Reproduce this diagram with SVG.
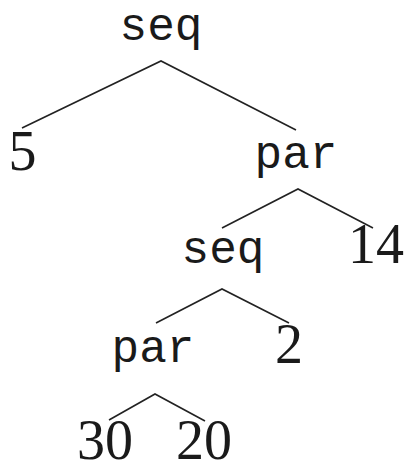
<svg xmlns="http://www.w3.org/2000/svg" width="405" height="460" viewBox="0 0 405 460">
<style>
.op{font-family:"Liberation Mono","DejaVu Sans Mono",monospace;font-size:46px;fill:#1a1a1a;text-anchor:middle}
.num{font-family:"Liberation Serif","DejaVu Serif",serif;font-size:56px;fill:#1a1a1a;text-anchor:middle}
.e{stroke:#222;stroke-width:1.6;fill:none}
</style>
<rect width="405" height="460" fill="#fff"/>
<g id="connectors">
<polyline class="e" points="22,128 161,61 296,130"/>
<polyline class="e" points="222,228 298,189 373,228"/>
<polyline class="e" points="156,323 222,289 289,323"/>
<polyline class="e" points="109,420 155,394 205,421"/>
</g>
<g id="n_seq1"><text class="op" x="161" y="40">seq</text></g>
<g id="n_5"><text class="num" x="22.5" y="170">5</text></g>
<g id="n_par1"><text class="op" x="296" y="168">par</text></g>
<g id="n_seq2"><text class="op" x="223" y="263">seq</text></g>
<g id="n_14"><text class="num" x="376" y="263">14</text></g>
<g id="n_par2"><text class="op" x="153" y="362">par</text></g>
<g id="n_2"><text class="num" x="289" y="363">2</text></g>
<g id="n_30"><text class="num" x="105" y="459">30</text></g>
<g id="n_20"><text class="num" x="204" y="459">20</text></g>
</svg>
